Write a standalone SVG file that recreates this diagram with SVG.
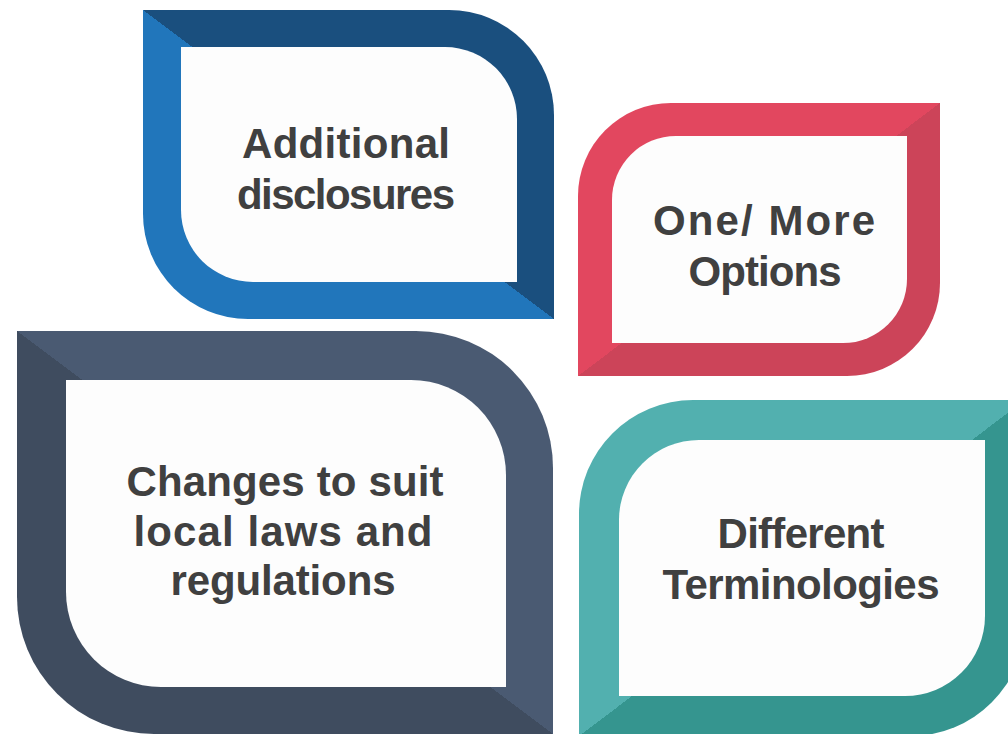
<svg xmlns="http://www.w3.org/2000/svg" width="1008" height="734" viewBox="0 0 1008 734">
  <style>
    .inner { fill: #FDFDFD; }
    .lbl { font-family: "Liberation Sans", Arial, sans-serif; font-weight: 700; font-size: 42px; fill: #404040; text-anchor: middle; }
  </style>
  <defs>
    <linearGradient id="gBlue" x1="0" y1="1" x2="1" y2="0">
      <stop offset="0.5" stop-color="#2176BB"/>
      <stop offset="0.5" stop-color="#1A4F7E"/>
    </linearGradient>
    <linearGradient id="gSlate" x1="0" y1="1" x2="1" y2="0">
      <stop offset="0.5" stop-color="#3F4C5F"/>
      <stop offset="0.5" stop-color="#4A5A72"/>
    </linearGradient>
    <linearGradient id="gRed" x1="0" y1="0" x2="1" y2="1">
      <stop offset="0.5" stop-color="#E2475F"/>
      <stop offset="0.5" stop-color="#CC4459"/>
    </linearGradient>
    <linearGradient id="gTeal" x1="0" y1="0" x2="1" y2="1">
      <stop offset="0.5" stop-color="#52B0AF"/>
      <stop offset="0.5" stop-color="#35958F"/>
    </linearGradient>
  </defs>
  <rect width="1008" height="734" fill="#FFFFFF"/>

  <g id="node-additional-disclosures">
    <path fill="url(#gBlue)" d="M143,10 H449 A105,105 0 0 1 554,115 V319 H248 A105,105 0 0 1 143,214 Z"/>
    <path class="inner" d="M181,47 H445 A72,72 0 0 1 517,119 V282 H253 A72,72 0 0 1 181,210 Z"/>
    <text class="lbl" x="346" y="158" textLength="208" lengthAdjust="spacing">Additional</text>
    <text class="lbl" x="346" y="209" textLength="218" lengthAdjust="spacing">disclosures</text>
  </g>

  <g id="node-one-more-options">
    <path fill="url(#gRed)" d="M671,103 H940 V283 A93,93 0 0 1 847,376 H578 V196 A93,93 0 0 1 671,103 Z"/>
    <path class="inner" d="M676,136 H907 V279 A64,64 0 0 1 843,343 H612 V200 A64,64 0 0 1 676,136 Z"/>
    <text class="lbl" x="764" y="235" textLength="222" lengthAdjust="spacing">One/ More</text>
    <text class="lbl" x="765" y="286" textLength="153" lengthAdjust="spacing">Options</text>
  </g>

  <g id="node-changes-local-laws">
    <path fill="url(#gSlate)" d="M17,331 H416 A137,137 0 0 1 553,468 V734 H154 A137,137 0 0 1 17,597 Z"/>
    <path class="inner" d="M66,380 H411 A95,95 0 0 1 506,475 V687 H161 A95,95 0 0 1 66,592 Z"/>
    <text class="lbl" x="285" y="496" textLength="317" lengthAdjust="spacing">Changes to suit</text>
    <text class="lbl" x="283" y="546" textLength="299" lengthAdjust="spacing">local laws and</text>
    <text class="lbl" x="283" y="595" textLength="225" lengthAdjust="spacing">regulations</text>
  </g>

  <g id="node-different-terminologies">
    <path fill="url(#gTeal)" d="M693,400 H1025 V622 A114,114 0 0 1 911,736 H579 V514 A114,114 0 0 1 693,400 Z"/>
    <path class="inner" d="M699,440 H985 V616 A80,80 0 0 1 905,696 H619 V520 A80,80 0 0 1 699,440 Z"/>
    <text class="lbl" x="801" y="548" textLength="167" lengthAdjust="spacing">Different</text>
    <text class="lbl" x="801" y="599" textLength="277" lengthAdjust="spacing">Terminologies</text>
  </g>

  <g id="connectors"></g>
</svg>
